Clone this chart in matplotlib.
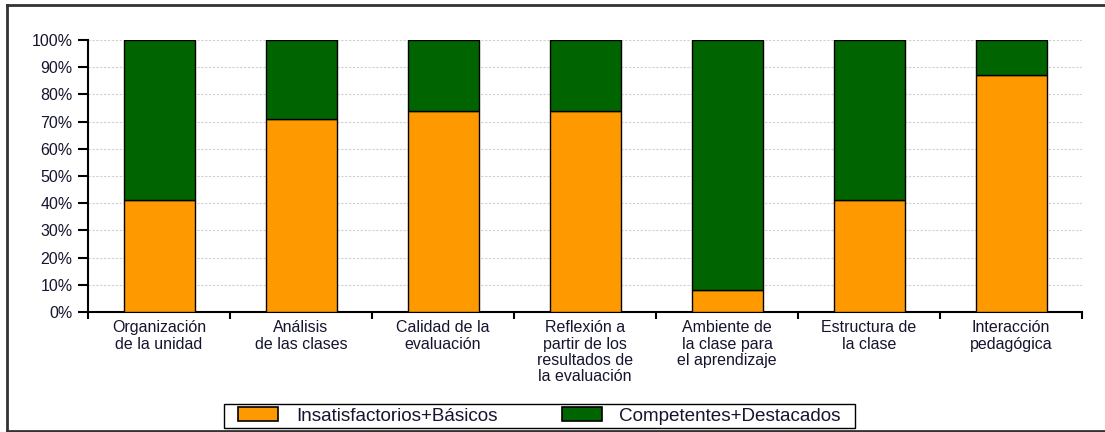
import numpy as np
import matplotlib
matplotlib.use("Agg")
import matplotlib.pyplot as plt
from matplotlib.lines import Line2D
from matplotlib.patches import Rectangle
from matplotlib.ticker import FixedLocator, PercentFormatter

categories = [
    "Organización\nde la unidad",
    "Análisis\nde las clases",
    "Calidad de la\nevaluación",
    "Reflexión a\npartir de los\nresultados de\nla evaluación",
    "Ambiente de\nla clase para\nel aprendizaje",
    "Estructura de\nla clase",
    "Interacción\npedagógica",
]
insatisfactorios = [41, 71, 74, 74, 8, 41, 87]
competentes = [100 - v for v in insatisfactorios]
series_names = ["Insatisfactorios+Básicos", "Competentes+Destacados"]

orange = "#FF9900"
green = "#006400"
text_color = "#15152e"

plt.rcParams["font.family"] = ["Liberation Sans", "DejaVu Sans"]

W, H = 1105, 432
fig = plt.figure(figsize=(W / 100, H / 100), dpi=100)
ax = fig.add_axes([88 / W, 1 - 312 / H, (1082 - 88) / W, (312 - 40) / H])

x = np.arange(len(categories))
ax.bar(x, insatisfactorios, width=0.5, color=orange, edgecolor="black",
       linewidth=1, label=series_names[0], zorder=3)
ax.bar(x, competentes, width=0.5, bottom=insatisfactorios, color=green,
       edgecolor="black", linewidth=1, label=series_names[1], zorder=3)

ax.set_xlim(-0.5, len(categories) - 0.5)
ax.set_ylim(0, 100)
ax.set_yticks(np.arange(0, 101, 10))
ax.yaxis.set_major_formatter(PercentFormatter(decimals=0))

ax.set_xticks(x)
ax.set_xticklabels(categories, fontsize=11.5, color=text_color, linespacing=1.1)
ax.tick_params(axis="x", which="major", length=0, pad=6)
ax.xaxis.set_minor_locator(FixedLocator(np.arange(-0.5, len(categories), 1.0)))
ax.tick_params(axis="x", which="minor", length=5, width=1.5, direction="out")
ax.tick_params(axis="y", length=7, width=1.5, labelsize=11.5, labelcolor=text_color, pad=4)

for val in range(10, 101, 10):
    ax.axhline(val, color="#cfcfcf", linestyle=(0, (2, 1.5)), linewidth=0.8, zorder=1)

for s in ["top", "right"]:
    ax.spines[s].set_visible(False)
ax.spines["left"].set_linewidth(1.5)
ax.spines["bottom"].set_linewidth(1.5)

# legend without its own frame, box drawn separately
fs = 13.6
fs_px = fs * 100 / 72
leg = fig.legend(loc="center left", bbox_to_anchor=(238 / W, 1 - 416 / H), ncol=2,
                 fontsize=fs, frameon=False, borderpad=0, borderaxespad=0,
                 handlelength=40 / fs_px, handleheight=13 / fs_px,
                 handletextpad=18 / fs_px, columnspacing=64 / fs_px)
for t in leg.get_texts():
    t.set_color(text_color)
for h in leg.legend_handles:
    h.set_edgecolor("black")
    h.set_linewidth(1.2)
fig.add_artist(Rectangle((224 / W, 1 - 428 / H), (855 - 224) / W, 24 / H,
                         transform=fig.transFigure, fill=False,
                         edgecolor="black", linewidth=1.0))

# outer frame (left, top, bottom)
frame_kw = dict(color="#333333", linewidth=2, transform=fig.transFigure)
fig.add_artist(Line2D([7 / W, 7 / W], [1 - 5 / H, 1 - 431 / H], **frame_kw))
fig.add_artist(Line2D([7 / W, 1], [1 - 5 / H, 1 - 5 / H], **frame_kw))
fig.add_artist(Line2D([7 / W, 1], [1 - 431 / H, 1 - 431 / H], **frame_kw))

fig.savefig("out.png", dpi=100)
